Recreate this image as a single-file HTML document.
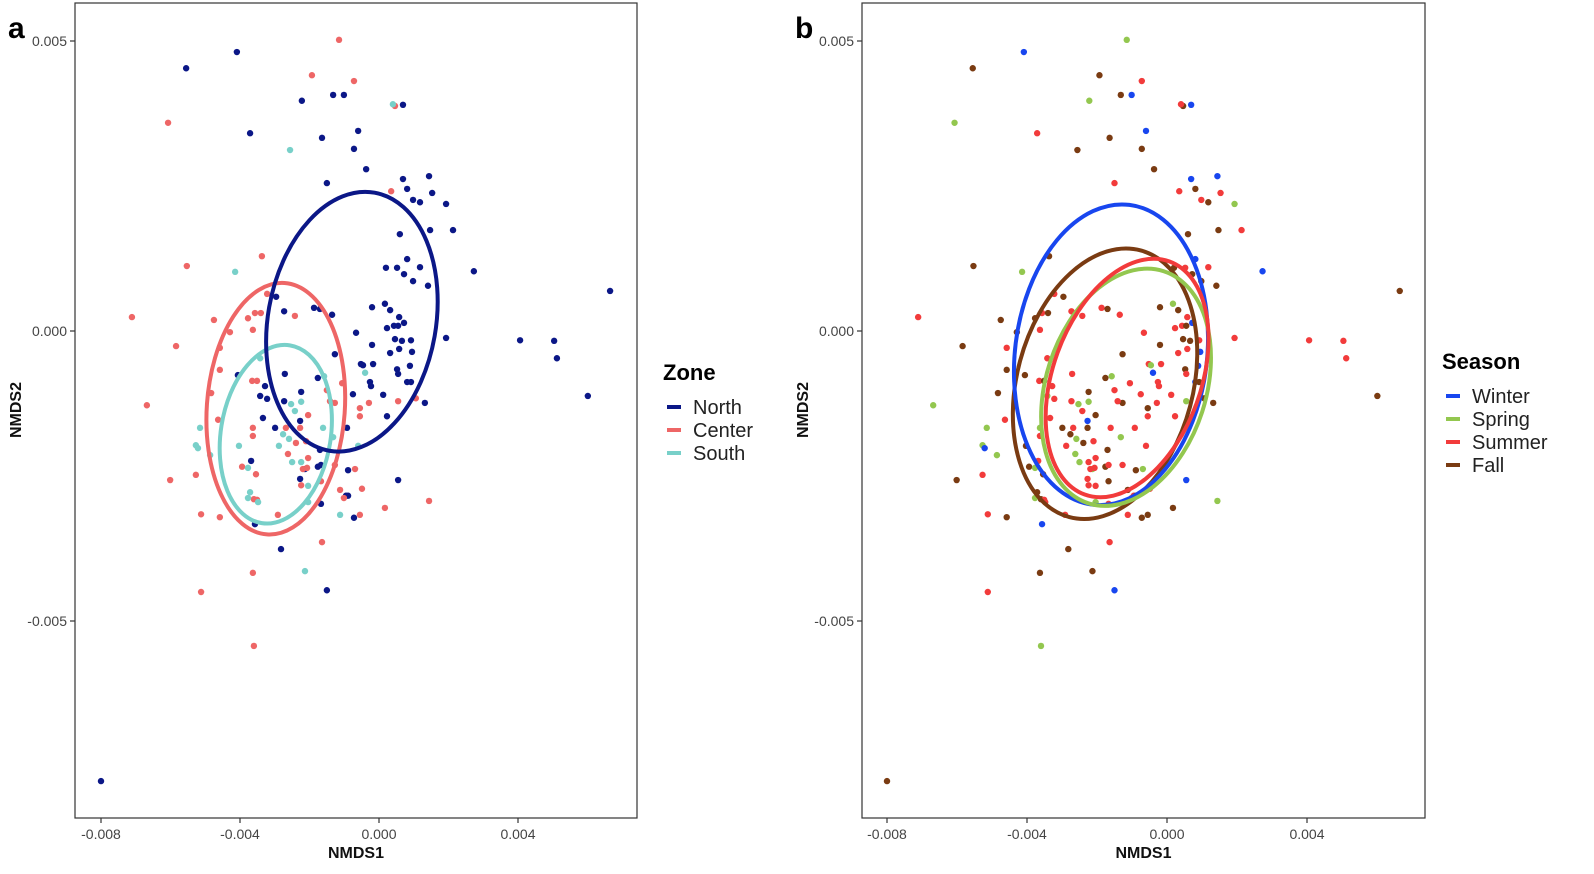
<!DOCTYPE html>
<html><head><meta charset="utf-8">
<style>
body{margin:0;background:#fff;}
svg{display:block;font-family:"Liberation Sans",Arial,sans-serif;}
</style></head>
<body>
<svg id="chart" width="1594" height="874" viewBox="0 0 1594 874" xmlns="http://www.w3.org/2000/svg">
<rect width="1594" height="874" fill="#fff"/>
<g id="pa"></g>
<g id="pb"></g>
</svg>
<script>
const xTicks=[-0.008,-0.004,0.000,0.004];
const xTickLabels=["-0.008","-0.004","0.000","0.004"];
const yTicks=[0.005,0.000,-0.005];
const yTickLabels=["0.005","0.000","-0.005"];
const zones=["North","Center","South"];
const seasons=["Winter","Spring","Summer","Fall"];
// values in units of 1e-3
const northX=[-5.55,-4.09,-2.22,-1.32,-1.01,0.69,-3.71,-1.64,-0.60,-0.72,-0.37,-1.50,0.69,1.44,0.81,1.53,0.98,1.18,1.93,1.47,2.13,0.60,0.81,0.20,0.52,0.72,1.18,0.98,1.41,2.73,6.65,4.06,5.04,5.12,6.01,-8.00,-2.96,-2.73,-1.87,-1.70,-1.35,-0.20,0.17,0.32,0.58,0.23,0.43,0.55,0.72,-0.66,1.93,0.46,0.66,0.92,-0.20,0.58,0.32,0.95,-1.27,-0.52,-0.46,-0.17,0.52,0.55,0.89,0.81,0.92,-0.26,-0.23,-4.06,-2.71,-1.76,-3.28,-3.42,-3.22,-2.24,-0.75,0.12,1.32,-2.73,-3.34,-2.27,-2.99,-0.92,0.23,-1.70,-3.68,-2.13,-2.27,-1.76,-1.67,-0.89,0.55,-0.95,-0.89,-1.67,-0.72,-3.57,-2.82,-1.50];
const northY=[4.53,4.81,3.97,4.07,4.07,3.90,3.41,3.33,3.45,3.14,2.79,2.55,2.62,2.67,2.45,2.38,2.26,2.22,2.19,1.74,1.74,1.67,1.24,1.09,1.09,0.98,1.10,0.86,0.78,1.03,0.69,-0.16,-0.17,-0.47,-1.12,-7.76,0.59,0.34,0.40,0.38,0.28,0.41,0.47,0.36,0.24,0.05,0.09,0.09,0.14,-0.03,-0.12,-0.14,-0.17,-0.16,-0.24,-0.31,-0.38,-0.36,-0.40,-0.57,-0.59,-0.57,-0.66,-0.74,-0.60,-0.88,-0.88,-0.88,-0.95,-0.76,-0.74,-0.81,-0.95,-1.12,-1.17,-1.05,-1.09,-1.10,-1.24,-1.21,-1.50,-1.55,-1.67,-1.67,-1.47,-2.05,-2.24,-2.38,-2.55,-2.34,-2.31,-2.40,-2.57,-2.84,-2.84,-2.98,-3.22,-3.33,-3.76,-4.47];
const centerX=[-1.15,-1.93,-0.72,0.46,-6.07,0.35,-5.53,-3.37,-7.11,-3.22,-3.77,-3.57,-3.40,-2.42,-4.75,-4.29,-3.63,-5.84,-4.58,-4.58,-4.83,-3.65,-3.51,-1.06,-1.50,-6.68,-1.27,-1.41,-0.29,0.55,1.06,-0.55,-0.55,-2.04,-4.63,-3.63,-3.63,-2.27,-2.68,-2.39,-2.10,-2.62,-2.04,-3.94,-2.19,-2.07,-3.54,-1.27,-0.69,-6.01,-5.27,-1.67,-2.24,-1.12,-0.49,-1.01,-3.60,-3.51,0.17,1.44,-5.12,-4.58,-2.91,-0.55,-1.64,-3.63,-5.12,-3.60];
const centerY=[5.02,4.41,4.31,3.88,3.59,2.41,1.12,1.29,0.24,0.64,0.22,0.31,0.31,0.26,0.19,-0.02,0.02,-0.26,-0.29,-0.67,-1.07,-0.86,-0.86,-0.90,-1.02,-1.28,-1.24,-1.21,-1.24,-1.21,-1.16,-1.33,-1.47,-1.45,-1.53,-1.67,-1.81,-1.67,-1.67,-1.93,-1.90,-2.12,-2.19,-2.34,-2.38,-2.36,-2.47,-2.31,-2.38,-2.57,-2.48,-2.59,-2.66,-2.74,-2.72,-2.88,-2.90,-2.91,-3.05,-2.93,-3.16,-3.21,-3.17,-3.17,-3.64,-4.17,-4.50,-5.43];
const southX=[0.40,-2.56,-4.14,-3.42,-1.58,-2.53,-2.24,-2.42,-5.15,-1.61,-5.27,-5.21,-4.86,-4.03,-2.88,-2.76,-2.59,-2.50,-2.24,-1.32,-0.60,-0.40,-3.77,-2.04,-3.71,-3.77,-3.48,-2.04,-1.12,-2.13];
const southY=[3.91,3.12,1.02,-0.47,-0.78,-1.26,-1.22,-1.38,-1.67,-1.67,-1.97,-2.02,-2.14,-1.98,-1.98,-1.78,-1.86,-2.26,-2.26,-1.83,-1.98,-0.72,-2.36,-2.67,-2.78,-2.88,-2.95,-2.95,-3.17,-4.14];
const northSeason="FWSFWWUFWFFUWWFUUFSFUFWFUFUFFWFUUUFFFUUFUFSFUUUFWUUFFUFUUWFUSUFUWWFUUFUFUSUFUUFUUWFUUFUSUFUFWUFUFWFWF";
const centerSeason="SFUFSUFFUUFUFUFFUFUFFUFUUSFUUSFFUFUSUFUFUSUFUUFUSFUFUFUUFUFSUFUFUFUSFF";
const southSeason="UFSUSSSUSUSWSFUFSSUSUWSUFSUSUFS";

const zoneColor={North:"#0b1787",Center:"#ee6666",South:"#78d0c9"};
const seasonColor={W:"#1846ef",S:"#93c74f",U:"#f23b3b",F:"#7a3b12"};
const seasonKey={Winter:"W",Spring:"S",Summer:"U",Fall:"F"};

const NS="http://www.w3.org/2000/svg";
function mk(tag,attrs,parent){const e=document.createElementNS(NS,tag);for(const k in attrs)e.setAttribute(k,attrs[k]);parent.appendChild(e);return e;}

const panels=[
 {g:document.getElementById('pa'),L:75,R:637,T:3,B:818,x0:379,xs:34750,letter:"a"},
 {g:document.getElementById('pb'),L:862,R:1425,T:3,B:818,x0:1167,xs:35000,letter:"b"}
];
const y0=331, ys=58000;

panels.forEach((p,pi)=>{
 const sx=v=>p.x0+v*p.xs;
 const sy=v=>y0-v*ys;
 const box=mk('rect',{x:p.L,y:p.T,width:p.R-p.L,height:p.B-p.T,fill:'none',stroke:'#333','stroke-width':1.2},p.g);
 
 
 xTicks.forEach((t,i)=>{
  const l=mk('line',{x1:sx(t),x2:sx(t),y1:p.B,y2:p.B+5,stroke:'#333','stroke-width':1.2},p.g);
  
  
  const tx=mk('text',{x:sx(t),y:p.B+21,'text-anchor':'middle','font-size':14,fill:'#444'},p.g);
  tx.textContent=xTickLabels[i];
  
  
 });
 yTicks.forEach((t,i)=>{
  const l=mk('line',{x1:p.L-5,x2:p.L,y1:sy(t),y2:sy(t),stroke:'#333','stroke-width':1.2},p.g);
  
  
  const tx=mk('text',{x:p.L-8,y:sy(t)+5,'text-anchor':'end','font-size':14,fill:'#444'},p.g);
  tx.textContent=yTickLabels[i];
  
  
 });
 const xt=mk('text',{x:(p.L+p.R)/2,y:858,'text-anchor':'middle','font-size':16,'font-weight':'bold',fill:'#111'},p.g);
 xt.textContent="NMDS1";
 
 
 const yx=p.L-54;
 const yt=mk('text',{x:yx,y:410,'text-anchor':'middle','font-size':16,'font-weight':'bold',fill:'#111',transform:`rotate(-90 ${yx} 410)`},p.g);
 yt.textContent="NMDS2";
 
 
 const lt=mk('text',{x:p.L-67,y:38,'font-size':30,'font-weight':'bold',fill:'#000'},p.g);
 lt.textContent=p.letter;
 
 

 const groups=[[northX,northY,"North",northSeason],[centerX,centerY,"Center",centerSeason],[southX,southY,"South",southSeason]];
 groups.forEach(([X,Y,z,S])=>{
  X.forEach((v,i)=>{
   const col=pi===0?zoneColor[z]:seasonColor[S[i]||"F"];
   const c=mk('circle',{cx:sx(v/1000),cy:sy(Y[i]/1000),r:3.2,fill:col},p.g);
   
   
  });
 });
});

// ellipses: center in data units (1e-3), radii in px, rotation deg
const zoneEll=[["Center",-2.97,-1.34,69,126,4],["South",-2.97,-1.78,55,90,9],["North",-0.78,0.16,84,131,10]];
const seasonEll=[["Fall",-1.77,-0.91,88,138,15],["Winter",-1.6,-0.41,96,151,7],["Spring",-1.17,-0.97,80,122,18],["Summer",-1.14,-0.81,74,124,20]];
function drawEll(p,list,colFn){
 list.forEach(([n,cx,cy,rx,ry,rot])=>{
  const X=p.x0+cx/1000*p.xs, Y=y0-cy/1000*ys;
  const e=mk('ellipse',{cx:X,cy:Y,rx:rx,ry:ry,fill:'none',stroke:colFn(n),'stroke-width':4,transform:`rotate(${rot} ${X} ${Y})`},p.g);
  
  
 });
}
drawEll(panels[0],zoneEll,n=>zoneColor[n]);
drawEll(panels[1],seasonEll,n=>seasonColor[seasonKey[n]]);

function legend(g,x,y,title,items,colFn){
 const t=mk('text',{x:x,y:y,'font-size':22,'font-weight':'bold',fill:'#000'},g);
 t.textContent=title;
 
 
 items.forEach((it,i)=>{
  const yy=y+34+i*23;
  const l=mk('line',{x1:x+4,x2:x+18,y1:yy-7,y2:yy-7,stroke:colFn(it),'stroke-width':4},g);
  
  
  const tx=mk('text',{x:x+30,y:yy,'font-size':20,fill:'#222'},g);
  tx.textContent=it;
  
  
 });
}
legend(panels[0].g,663,380,"Zone",zones,n=>zoneColor[n]);
legend(panels[1].g,1442,369,"Season",seasons,n=>seasonColor[seasonKey[n]]);
</script>
</body></html>
